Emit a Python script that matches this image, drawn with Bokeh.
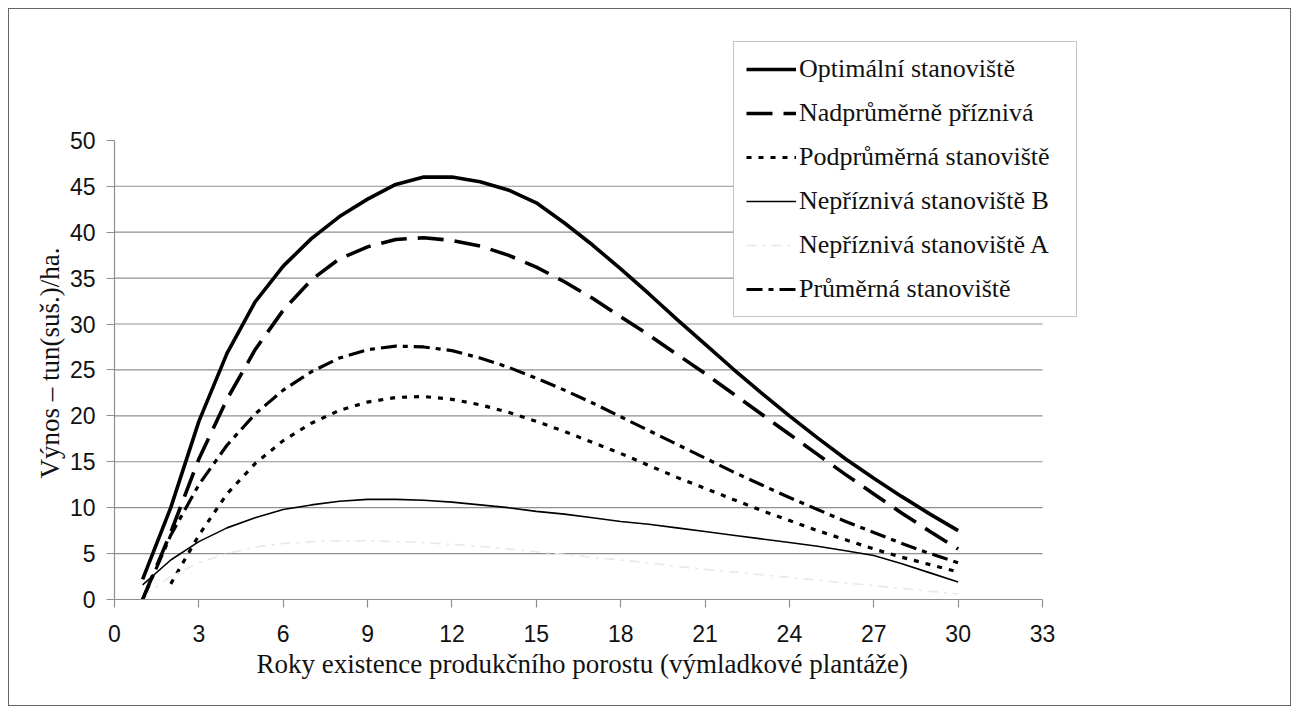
from bokeh.plotting import figure
from bokeh.models import Legend, LegendItem, FixedTicker, Title
from bokeh.embed import file_html
from bokeh.resources import INLINE

years = list(range(1, 31))

optimalni = [2.2, 10.0, 19.4, 26.8, 32.4, 36.3, 39.3, 41.7, 43.6, 45.2,
             46.0, 46.0, 45.5, 44.6, 43.2, 41.0, 38.6, 36.0, 33.3, 30.5,
             27.8, 25.1, 22.5, 20.0, 17.6, 15.3, 13.2, 11.2, 9.3, 7.5]
nadprumerne = [0.0, 7.3, 15.3, 21.8, 27.2, 31.5, 34.8, 37.1, 38.4, 39.2,
               39.4, 39.1, 38.5, 37.5, 36.2, 34.6, 32.8, 30.8, 28.8, 26.7,
               24.6, 22.4, 20.2, 18.0, 15.8, 13.6, 11.5, 9.4, 7.4, 5.5]
podprumerna_years = list(range(2, 31))
podprumerna = [1.7, 7.0, 11.5, 14.8, 17.3, 19.2, 20.6, 21.5, 22.0,
               22.1, 21.8, 21.2, 20.4, 19.4, 18.3, 17.1, 15.9, 14.6, 13.3,
               12.1, 10.9, 9.7, 8.6, 7.5, 6.5, 5.5, 4.6, 3.8, 3.0]
neprizniva_b = [1.6, 4.3, 6.3, 7.8, 8.9, 9.8, 10.3, 10.7, 10.9, 10.9,
                10.8, 10.6, 10.3, 10.0, 9.6, 9.3, 8.9, 8.5, 8.2, 7.8,
                7.4, 7.0, 6.6, 6.2, 5.8, 5.3, 4.8, 3.9, 2.9, 1.9]
neprizniva_a = [0.3, 2.5, 4.0, 5.0, 5.7, 6.1, 6.3, 6.4, 6.4, 6.3,
                6.2, 6.0, 5.8, 5.5, 5.2, 4.9, 4.6, 4.3, 4.0, 3.6,
                3.3, 3.0, 2.7, 2.4, 2.1, 1.8, 1.5, 1.2, 0.9, 0.6]
prumerna = [0.0, 7.0, 12.5, 16.8, 20.2, 22.8, 24.8, 26.3, 27.2, 27.6,
            27.5, 27.1, 26.3, 25.3, 24.1, 22.8, 21.4, 19.9, 18.4, 16.9,
            15.4, 13.9, 12.5, 11.1, 9.8, 8.5, 7.3, 6.1, 5.0, 4.0]

labels = ["Optimální stanoviště", "Nadprůměrně příznivá", "Podprůměrná stanoviště",
          "Nepříznivá stanoviště B", "Nepříznivá stanoviště A", "Průměrná stanoviště"]
x_title = "Roky existence produkčního porostu (výmladkové plantáže)"
y_title = "Výnos – tun(suš.)/ha."
x_ticks = list(range(0, 34, 3))
y_ticks = list(range(0, 51, 5))
y_grid = list(range(5, 46, 5))
x_min, x_max = 0, 33
y_min, y_max = 0, 50

GRID = "#8f8f8f"

# frame is extended beyond the axes so that the legend (which overhangs the
# plotting area in the original) is not clipped; axes are bounded to the data span
p = figure(width=1283, height=698, x_range=(x_min, 34.28), y_range=(y_min, 61.2),
           output_backend="svg", toolbar_location=None,
           min_border_left=105, min_border_top=28, min_border_right=214,
           min_border_bottom=108)
p.styles = {"border": "1px solid #666666", "margin-left": "8px", "margin-top": "8px"}
p.outline_line_color = None
p.background_fill_color = "white"
p.border_fill_color = "white"
p.xgrid.visible = False
p.ygrid.visible = False

# horizontal grid lines over the data span only
p.segment(x0=[x_min] * len(y_grid), y0=y_grid, x1=[x_max] * len(y_grid), y1=y_grid,
          line_color=GRID, line_width=1.2)

for ax in (p.xaxis[0], p.yaxis[0]):
    ax.axis_line_color = GRID
    ax.axis_line_width = 1.2
    ax.major_tick_line_color = GRID
    ax.major_tick_line_width = 1.2
    ax.major_tick_out = 8
    ax.major_tick_in = 0
    ax.minor_tick_line_color = None
    ax.major_label_text_font = "Liberation Sans"
    ax.major_label_text_font_size = "23px"
    ax.major_label_text_color = "#111111"

p.xaxis.bounds = (x_min, x_max)
p.yaxis.bounds = (y_min, y_max)
p.xaxis.ticker = FixedTicker(ticks=x_ticks)
p.yaxis.ticker = FixedTicker(ticks=y_ticks)
p.xaxis.major_label_standoff = 17
p.yaxis.major_label_standoff = 11

xt = Title(text=x_title, align="left", offset=142, text_font="Liberation Serif",
           text_font_size="27px", text_font_style="normal", text_color="#111111",
           standoff=4)
p.add_layout(xt, "below")
yt = Title(text=y_title, align="left", offset=121, text_font="Liberation Serif",
           text_font_size="27px", text_font_style="normal", text_color="#111111",
           standoff=4)
p.add_layout(yt, "left")

r1 = p.line(years, optimalni, line_color="black", line_width=3.6)
r2 = p.line(years, nadprumerne, line_color="black", line_width=3.6, line_dash="26 11")
r3 = p.line(podprumerna_years, podprumerna, line_color="black", line_width=3.2, line_dash="5 7")
r4 = p.line(years, neprizniva_b, line_color="black", line_width=1.6)
r5 = p.line(years, neprizniva_a, line_color="#e8e8e8", line_width=1.6, line_dash="10 6 3 6")
r6 = p.line(years, prumerna, line_color="black", line_width=3.2, line_dash="16 6 5 6")

items = [LegendItem(label=l, renderers=[r]) for l, r in zip(labels, [r1, r2, r3, r4, r5, r6])]
legend = Legend(items=items, location=(619, 282))
legend.label_text_font = "Liberation Serif"
legend.label_text_font_size = "26px"
legend.label_text_color = "#111111"
legend.label_height = 30
legend.glyph_height = 30
legend.glyph_width = 50
legend.label_standoff = 3
legend.label_width = 265
legend.spacing = 14
legend.padding = 12
legend.margin = 0
legend.border_line_color = "#8a8a8a"
legend.border_line_width = 1.2
legend.background_fill_color = "white"
legend.background_fill_alpha = 1.0
p.add_layout(legend)

open("out.html", "w").write(file_html(p, INLINE))
